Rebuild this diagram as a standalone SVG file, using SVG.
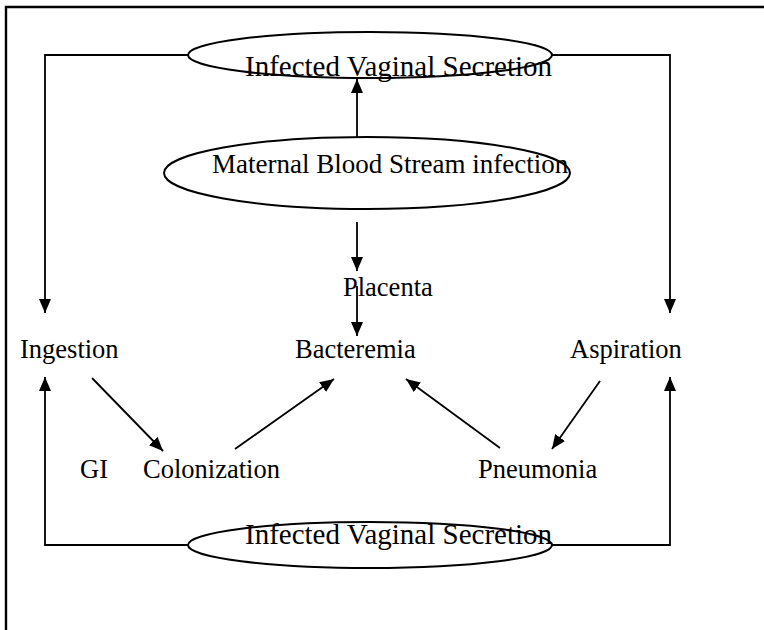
<svg xmlns="http://www.w3.org/2000/svg" width="764" height="630" viewBox="0 0 764 630">
  <defs>
    <marker id="arrow" viewBox="0 0 14 12" refX="14" refY="6" markerWidth="14" markerHeight="12" markerUnits="userSpaceOnUse" orient="auto">
      <path d="M0,0 L14,6 L0,12 Z" fill="#000"/>
    </marker>
    <style>
      .lbl { font-family: "Liberation Serif", "Times New Roman", serif; font-size: 26.5px; fill: #000; }
      .big { font-size: 29px; }
      .mid { font-size: 27px; }
      .node { fill: #fff; stroke: #000; stroke-width: 2; }
      .edge { fill: none; stroke: #000; stroke-width: 1.8; }
      .arr { marker-end: url(#arrow); }
    </style>
  </defs>
  <rect width="764" height="630" fill="#fff"/>
  <!-- page frame -->
  <path d="M6,630 L6,7 L764,7" fill="none" stroke="#000" stroke-width="2.4"/>

  <g id="connectors">
    <!-- top secretion branches down to Ingestion / Aspiration -->
    <polyline class="edge arr" points="188,55 45,55 45,313"/>
    <polyline class="edge arr" points="552,55 670,55 670,313"/>
    <!-- bottom secretion branches up to Ingestion / Aspiration -->
    <polyline class="edge arr" points="188,545 45,545 45,377"/>
    <polyline class="edge arr" points="552,545 670,545 670,377"/>
    <!-- maternal infection up to secretion -->
    <line class="edge arr" x1="357" y1="137" x2="357" y2="79"/>
    <!-- maternal infection to placenta, placenta to bacteremia -->
    <line class="edge arr" x1="357" y1="222" x2="357" y2="271"/>
    <line class="edge arr" x1="357" y1="286" x2="357" y2="336"/>
    <!-- ingestion to colonization, colonization to bacteremia -->
    <line class="edge arr" x1="92" y1="378" x2="163" y2="451"/>
    <line class="edge arr" x1="235" y1="449" x2="334" y2="379"/>
    <!-- pneumonia to bacteremia, aspiration to pneumonia -->
    <line class="edge arr" x1="500" y1="448" x2="406" y2="379"/>
    <line class="edge arr" x1="600" y1="381" x2="552" y2="449"/>
  </g>

  <g id="top-secretion">
    <ellipse class="node" cx="370" cy="55" rx="182" ry="23"/>
    <text class="lbl big" x="245" y="76">Infected Vaginal Secretion</text>
  </g>
  <g id="maternal-infection">
    <ellipse class="node" cx="367" cy="173" rx="203" ry="36"/>
    <text class="lbl mid" x="212" y="173">Maternal Blood Stream infection</text>
  </g>
  <g id="placenta">
    <text class="lbl" x="343" y="296">Placenta</text>
  </g>
  <g id="ingestion">
    <text class="lbl" x="20" y="358">Ingestion</text>
  </g>
  <g id="bacteremia">
    <text class="lbl" x="295" y="358">Bacteremia</text>
  </g>
  <g id="aspiration">
    <text class="lbl" x="570" y="358">Aspiration</text>
  </g>
  <g id="gi">
    <text class="lbl" x="80" y="478">GI</text>
  </g>
  <g id="colonization">
    <text class="lbl" x="143" y="478">Colonization</text>
  </g>
  <g id="pneumonia">
    <text class="lbl" x="478" y="478">Pneumonia</text>
  </g>
  <g id="bottom-secretion">
    <ellipse class="node" cx="370" cy="545" rx="182" ry="23"/>
    <text class="lbl big" x="245" y="544">Infected Vaginal Secretion</text>
  </g>
</svg>
